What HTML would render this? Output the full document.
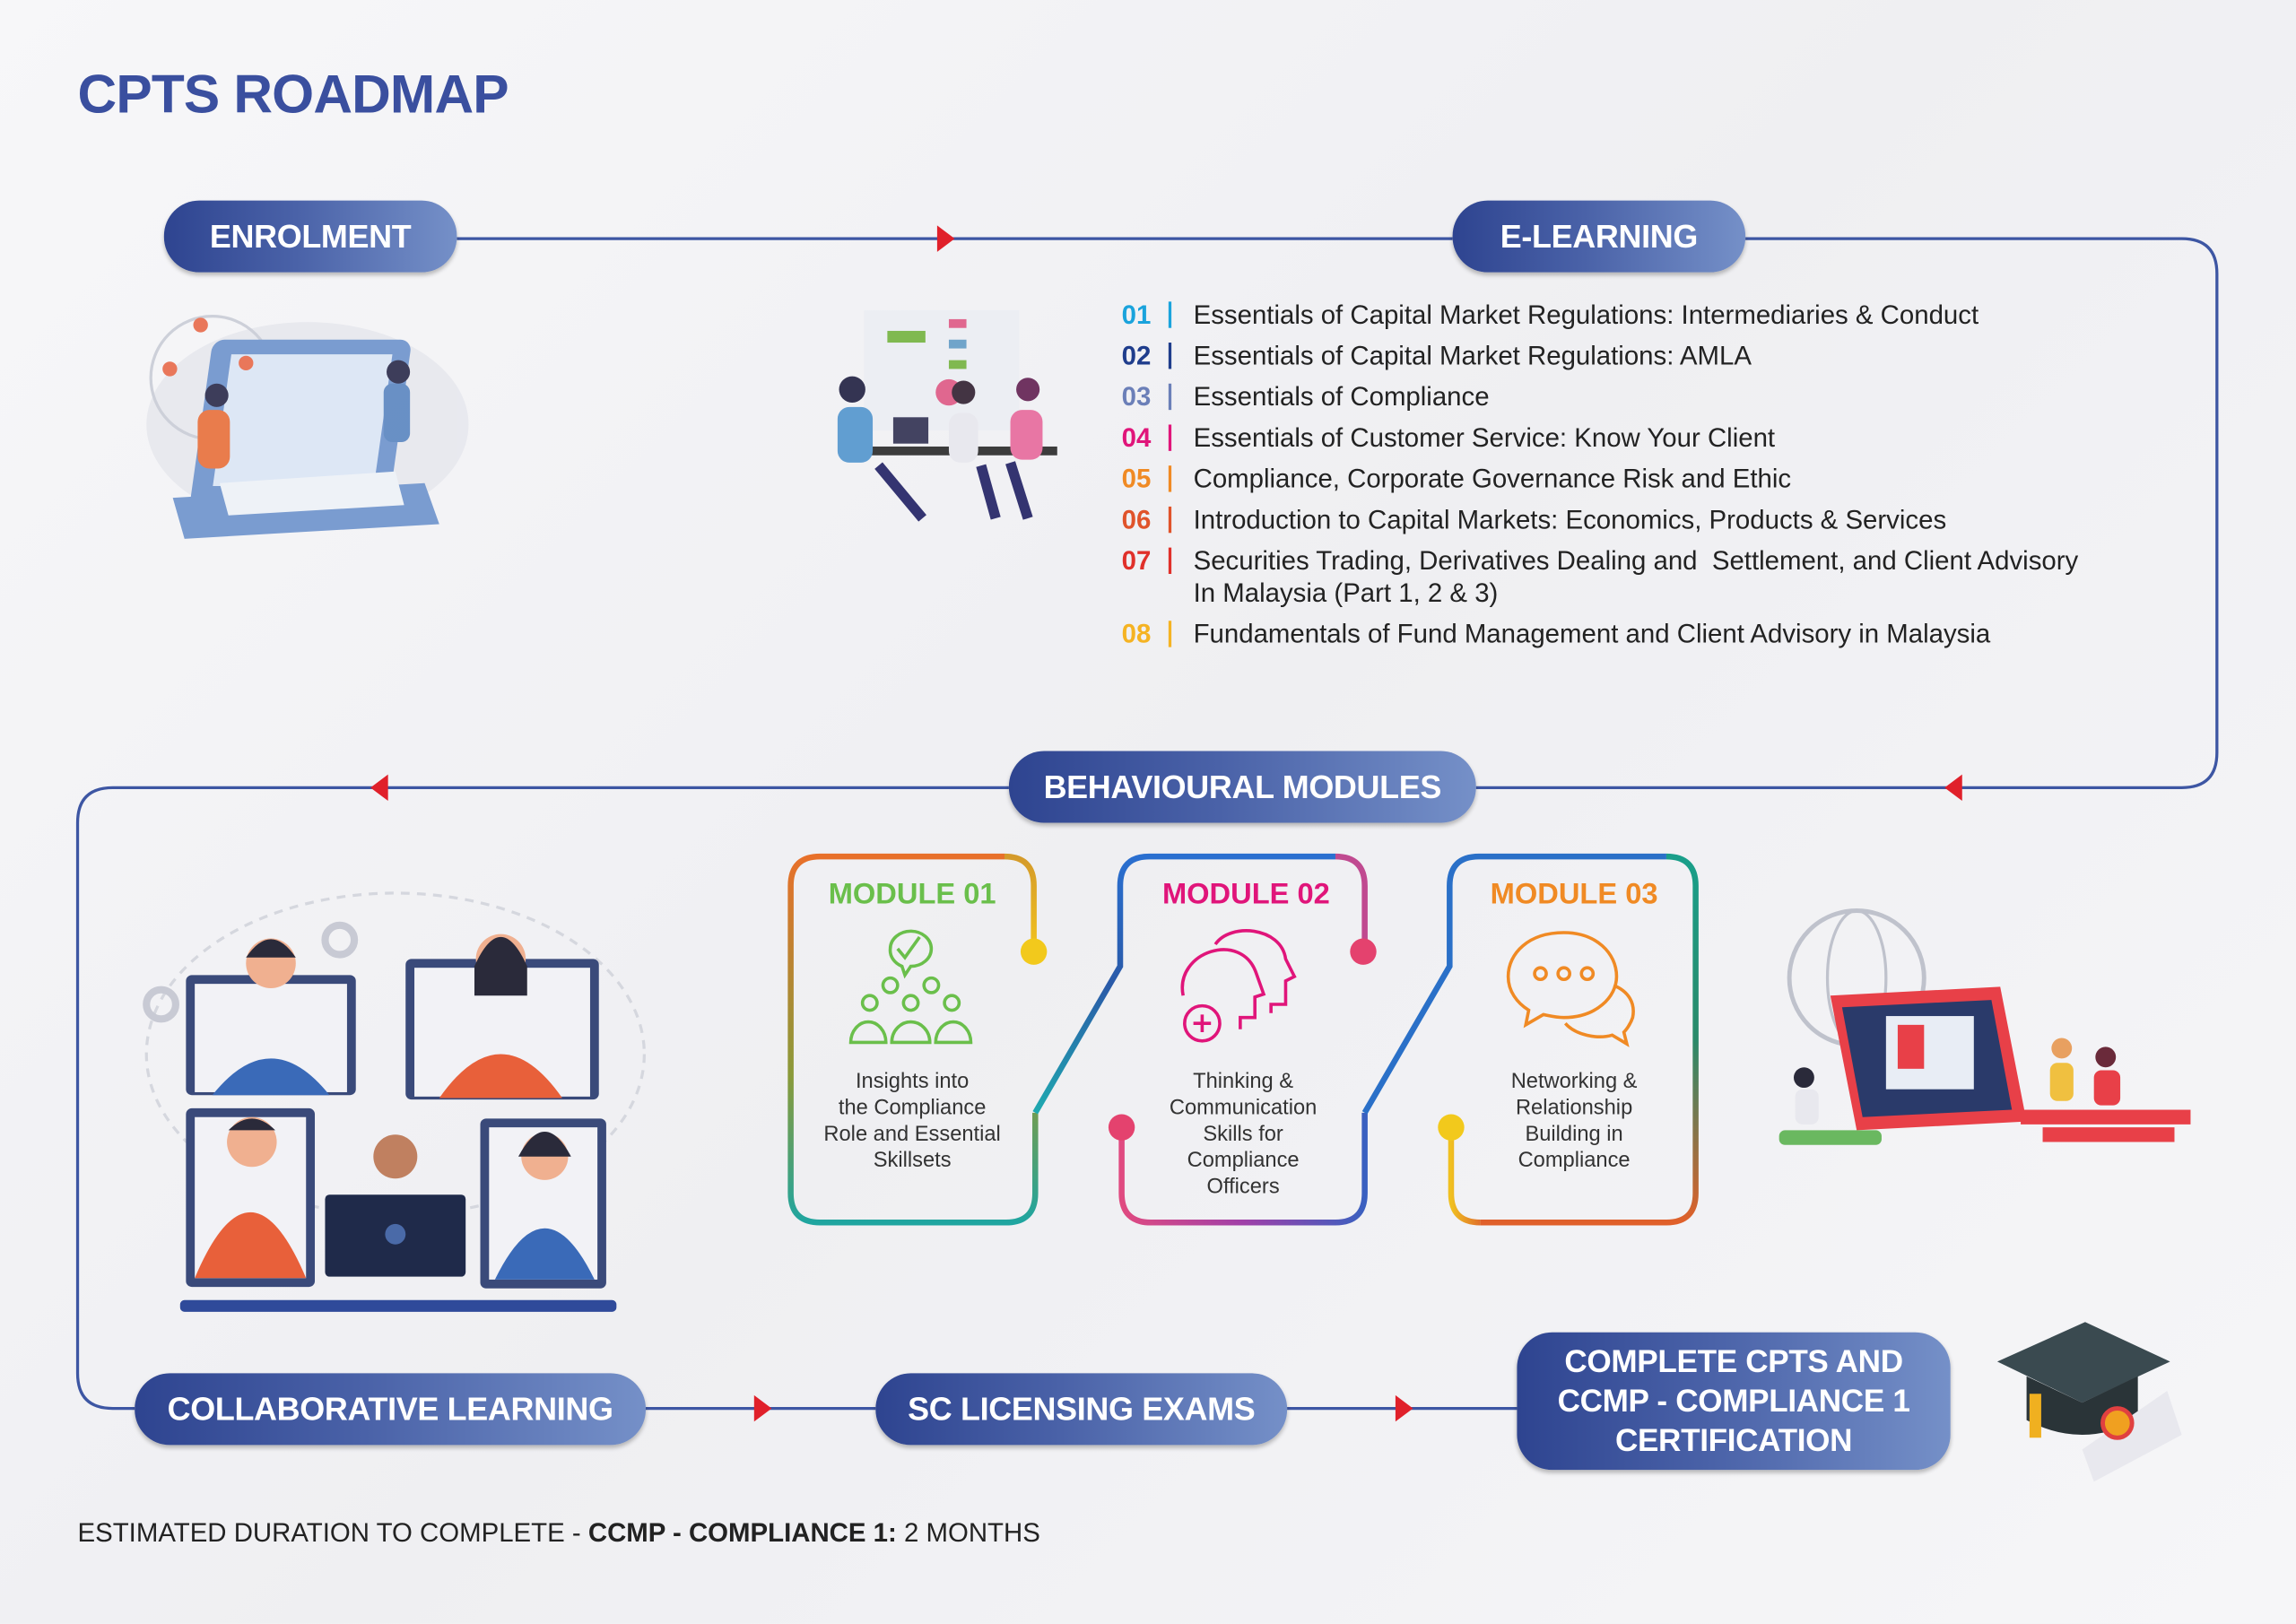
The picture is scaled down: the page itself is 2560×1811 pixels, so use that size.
<!DOCTYPE html>
<html><head><meta charset="utf-8"><style>
html,body{margin:0;padding:0;}
body{width:2560px;height:1811px;overflow:hidden;background:#f3f3f5;}
#w{position:absolute;left:0;top:0;width:1568px;height:1109px;transform:scale(1.63265);transform-origin:0 0;font-family:"Liberation Sans",sans-serif;
background:linear-gradient(135deg,#f7f7f9 0%,#efeff2 50%,#f6f6f8 100%);}
.t{position:absolute;white-space:nowrap;}
.pill{position:absolute;border-radius:24px;background:linear-gradient(90deg,#2e4490 0%,#4a62a8 45%,#7590c8 100%);color:#fff;font-weight:bold;font-size:22px;display:flex;align-items:center;justify-content:center;text-align:center;box-shadow:0 2px 3px rgba(0,0,0,.25);letter-spacing:-.2px}
.num{position:absolute;left:766px;font-size:18px;font-weight:bold;}
.bar{position:absolute;left:798px;width:2px;height:18px;}
.li{position:absolute;left:815px;font-size:18px;color:#222;white-space:nowrap;}
.mt{position:absolute;font-weight:bold;font-size:20px;text-align:center;width:170px;}
.md{position:absolute;font-size:14.5px;color:#333;text-align:center;width:170px;line-height:18px;}
</style></head><body><div id="w">
<div class="t" style="left:53px;top:44px;font-size:37px;font-weight:bold;color:#3a4f9f;letter-spacing:-.5px">CPTS ROADMAP</div>

<svg width="1568" height="1109" style="position:absolute;left:0;top:0">
<g fill="none" stroke="#3d56a3" stroke-width="2">
<path d="M312,163 H992"/>
<path d="M1192,163 H1490 Q1514,163 1514,187 V514 Q1514,538 1490,538 H1008"/>
<path d="M689,538 H77 Q53,538 53,562 V938 Q53,962 77,962 H92"/>
<path d="M441,962 H598"/>
<path d="M879,962 H1036"/>
</g>
<g fill="#e0202a">
<polygon points="640,154 652,163 640,172"/>
<polygon points="1340,529 1328,538 1340,547"/>
<polygon points="265,529 253,538 265,547"/>
<polygon points="515,953 527,962 515,971"/>
<polygon points="953,953 965,962 953,971"/>
</g>
<defs>
<linearGradient id="g1" x1="0" y1="0" x2="0" y2="1"><stop offset="0" stop-color="#e8702a"/><stop offset=".6" stop-color="#8a9a3a"/><stop offset="1" stop-color="#1fa5a0"/></linearGradient>
<linearGradient id="g1b" x1="0" y1="0" x2="0" y2="1"><stop offset="0" stop-color="#d49a2a"/><stop offset="1" stop-color="#f0c020"/></linearGradient>
<linearGradient id="g2" x1="0" y1="0" x2="0" y2="1"><stop offset="0" stop-color="#2a6fd0"/><stop offset=".5" stop-color="#2a5aa8"/><stop offset="1" stop-color="#1faab0"/></linearGradient>
<linearGradient id="g2b" x1="0" y1="0" x2="1" y2="0"><stop offset="0" stop-color="#e04a80"/><stop offset=".5" stop-color="#a040a8"/><stop offset="1" stop-color="#3a60c0"/></linearGradient>
<linearGradient id="g3" x1="0" y1="0" x2="0" y2="1"><stop offset="0" stop-color="#1a9f8a"/><stop offset=".5" stop-color="#2a8a6a"/><stop offset="1" stop-color="#e0602a"/></linearGradient>
<linearGradient id="g3b" x1="0" y1="0" x2="1" y2="0"><stop offset="0" stop-color="#f0c020"/><stop offset="1" stop-color="#e0702a"/></linearGradient>
</defs>
<g fill="none" stroke-width="4">
<path stroke="url(#g1)" d="M540,605 Q540,585 560,585 H686 M540,605 V815 Q540,835 560,835 H687 Q707,835 707,815 V760"/>
<path stroke="url(#g1b)" d="M686,585 Q706,585 706,605 V645"/>
<path stroke="url(#g2)" d="M707,760 L765,660 V605 Q765,585 785,585 H912"/>
<path stroke="#c04a90" d="M912,585 Q932,585 932,605 V645"/>
<path stroke="url(#g2b)" d="M766,775 V815 Q766,835 786,835 H912 Q932,835 932,815 V760"/>
<path stroke="#2a70c8" d="M932,760 L990,660 V605 Q990,585 1010,585 H1138"/>
<path stroke="url(#g3)" d="M1138,585 Q1158,585 1158,605 V815 Q1158,835 1138,835 H1011"/>
<path stroke="url(#g3b)" d="M1011,835 Q991,835 991,815 V775"/>
</g>
<circle cx="706" cy="650" r="9" fill="#f2c91c"/>
<circle cx="931" cy="650" r="9" fill="#e4426e"/>
<circle cx="766" cy="770" r="9" fill="#e4426e"/>
<circle cx="991" cy="770" r="9" fill="#f2c91c"/>
<!-- module icons -->
<g fill="none" stroke="#6abf4b" stroke-width="2.2">
<path d="M608,648 a14,12 0 1 1 14,12 l-4,6 l-2,-6 a14,12 0 0 1 -8,-12z"/>
<path d="M613,648 l5,6 l10,-14"/>
<circle cx="608" cy="673" r="5"/><circle cx="636" cy="673" r="5"/>
<circle cx="594" cy="685" r="5"/><circle cx="622" cy="685" r="5"/><circle cx="650" cy="685" r="5"/>
<path d="M581,712 a12,14 0 0 1 24,0z M609,712 a13,14 0 0 1 26,0z M639,712 a12,14 0 0 1 24,0z"/>
</g>
<g fill="none" stroke="#e0157a" stroke-width="2.2">
<path d="M830,645 c10,-15 45,-12 48,10 l6,12 l-6,3 v16 h-10 v6"/>
<path d="M808,680 c-6,-30 40,-45 50,-15 l5,14 l-6,2 v14 h-10 v8"/>
<circle cx="821" cy="699" r="12"/><path d="M815,699 h12 M821,693 v12"/>
</g>
<g fill="none" stroke="#f08a24" stroke-width="2.2">
<path d="M1068,637 c-24,0 -38,14 -38,30 c0,10 6,18 14,23 l-2,10 l12,-7 c5,1 9,2 14,2 c22,0 36,-14 36,-28 c0,-16 -14,-30 -36,-30z"/>
<circle cx="1052" cy="665" r="4"/><circle cx="1068" cy="665" r="4"/><circle cx="1084" cy="665" r="4"/>
<path d="M1102,673 c10,4 15,12 13,22 c-2,6 -6,10 -6,10 l2,8 l-10,-6 c-10,3 -25,0 -32,-8"/>
</g>
<!-- illustrations (simplified) -->
<g opacity=".9">
<ellipse cx="210" cy="290" rx="110" ry="70" fill="#e7e8ee"/>
<circle cx="145" cy="258" r="42" fill="none" stroke="#c9ccd6" stroke-width="2"/>
<rect x="178" y="232" width="136" height="120" rx="8" fill="#6d93cc" transform="skewX(-8)"/>
<rect x="192" y="242" width="110" height="90" fill="#dbe6f5" transform="skewX(-8)"/>
<polygon points="118,340 290,330 300,358 126,368" fill="#6d93cc"/>
<polygon points="150,330 270,322 276,345 156,352" fill="#eef2f8"/>
<circle cx="137" cy="222" r="5" fill="#e86a4a"/><circle cx="168" cy="248" r="5" fill="#e86a4a"/><circle cx="116" cy="252" r="5" fill="#e86a4a"/>
<rect x="135" y="280" width="22" height="40" rx="8" fill="#e8703a"/><circle cx="148" cy="270" r="8" fill="#2a2a4a"/>
<rect x="262" y="262" width="18" height="40" rx="6" fill="#5a86c0"/><circle cx="272" cy="254" r="8" fill="#2a2a4a"/>
</g>
<g opacity=".95">
<rect x="590" y="212" width="106" height="82" fill="#eceef3"/>
<rect x="606" y="226" width="26" height="8" fill="#7ab648"/>
<rect x="648" y="218" width="12" height="6" fill="#e0608a"/><rect x="648" y="232" width="12" height="6" fill="#6aa0c8"/><rect x="648" y="246" width="12" height="6" fill="#7ab648"/>
<circle cx="648" cy="268" r="9" fill="#e0608a"/>
<rect x="592" y="305" width="130" height="6" fill="#333"/>
<rect x="572" y="278" width="24" height="38" rx="8" fill="#5a9ad0"/><circle cx="582" cy="266" r="9" fill="#2a2a4a"/>
<rect x="648" y="282" width="20" height="34" rx="8" fill="#e8e8ee"/><circle cx="658" cy="268" r="8" fill="#3a2a3a"/>
<rect x="690" y="280" width="22" height="34" rx="8" fill="#e870a0"/><circle cx="702" cy="266" r="8" fill="#6a2a5a"/>
<path d="M600,318 l30,36 M670,318 l10,36 M690,316 l12,38" stroke="#2a2a6a" stroke-width="7"/>
<rect x="610" y="285" width="24" height="18" fill="#3a3a5a"/>
</g>
<g>
<ellipse cx="270" cy="720" rx="170" ry="110" fill="none" stroke="#d5d7de" stroke-width="2" stroke-dasharray="6 5"/>
<rect x="127" y="666" width="116" height="82" rx="4" fill="#3a4a7a"/><rect x="133" y="672" width="104" height="74" fill="#f2f2f6"/>
<rect x="277" y="655" width="132" height="96" rx="4" fill="#3a4a7a"/><rect x="283" y="661" width="120" height="88" fill="#f2f2f6"/>
<rect x="127" y="757" width="88" height="122" rx="4" fill="#3a4a7a"/><rect x="133" y="763" width="76" height="110" fill="#f2f2f6"/>
<rect x="328" y="764" width="86" height="116" rx="4" fill="#3a4a7a"/><rect x="334" y="770" width="74" height="104" fill="#f2f2f6"/>
<rect x="222" y="816" width="96" height="56" rx="3" fill="#1f2a4a"/>
<rect x="123" y="888" width="298" height="8" rx="3" fill="#2f4a9a"/>
<path d="M145,748 q40,-50 80,0z" fill="#3a6ab8"/><circle cx="185" cy="658" r="17" fill="#f0b090"/><path d="M168,654 q17,-25 34,0z" fill="#2a2a3a"/>
<path d="M300,750 q42,-60 84,0z" fill="#e8603a"/><circle cx="342" cy="655" r="17" fill="#f0b090"/><path d="M324,660 q18,-40 36,0 v20 h-36z" fill="#2a2a3a"/>
<path d="M133,873 q38,-90 76,0z" fill="#e8603a"/><circle cx="172" cy="780" r="17" fill="#f0b090"/><path d="M156,772 q16,-16 32,0z" fill="#2a2a3a"/>
<path d="M338,874 q34,-70 68,0z" fill="#3a6ab8"/><circle cx="372" cy="790" r="16" fill="#f0b090"/><path d="M354,790 q18,-34 36,0z" fill="#2a2a3a"/>
<circle cx="270" cy="790" r="15" fill="#c08060"/><circle cx="270" cy="843" r="7" fill="#4a6aa8"/>
<circle cx="110" cy="686" r="10" fill="none" stroke="#c8cad4" stroke-width="5"/><circle cx="232" cy="642" r="10" fill="none" stroke="#c8cad4" stroke-width="5"/>
</g>
<g>
<circle cx="1268" cy="668" r="46" fill="none" stroke="#bfc2cc" stroke-width="3"/>
<ellipse cx="1268" cy="668" rx="20" ry="46" fill="none" stroke="#bfc2cc" stroke-width="2"/>
<polygon points="1250,680 1366,674 1384,766 1268,772" fill="#e84048"/>
<polygon points="1258,688 1360,683 1374,758 1272,763" fill="#2a3a6a"/>
<rect x="1288" y="694" width="60" height="50" fill="#e8edf5"/>
<rect x="1296" y="700" width="18" height="30" fill="#e84048"/>
<rect x="1215" y="772" width="70" height="10" rx="4" fill="#6ab860"/>
<rect x="1380" y="758" width="116" height="10" fill="#e84048"/><rect x="1395" y="770" width="90" height="10" fill="#e84048"/>
<circle cx="1232" cy="736" r="7" fill="#2a2a3a"/><rect x="1226" y="744" width="16" height="24" rx="5" fill="#e8e8ee"/>
<circle cx="1408" cy="716" r="7" fill="#e8a060"/><rect x="1400" y="726" width="16" height="26" rx="5" fill="#f0c040"/>
<circle cx="1438" cy="722" r="7" fill="#6a2a3a"/><rect x="1430" y="731" width="18" height="24" rx="5" fill="#e84048"/>
</g>
<g>
<polygon points="1364,930 1424,903 1482,930 1422,958" fill="#3a4a50"/>
<path d="M1384,940 v30 q38,20 76,0 v-30 l-38,18z" fill="#2a3438"/>
<rect x="1386" y="952" width="8" height="30" fill="#f0b020"/>
<polygon points="1422,990 1480,950 1490,980 1430,1012" fill="#e8e8ee"/>
<circle cx="1446" cy="972" r="10" fill="#f0a020" stroke="#e04040" stroke-width="3"/>
</g>
</svg>

<div class="pill" style="left:112px;top:137px;width:200px;height:49px">ENROLMENT</div>
<div class="pill" style="left:992px;top:137px;width:200px;height:49px">E-LEARNING</div>
<div class="pill" style="left:689px;top:513px;width:319px;height:49px">BEHAVIOURAL MODULES</div>
<div class="pill" style="left:92px;top:938px;width:349px;height:49px">COLLABORATIVE LEARNING</div>
<div class="pill" style="left:598px;top:938px;width:281px;height:49px">SC LICENSING EXAMS</div>
<div class="pill" style="left:1036px;top:910px;width:296px;height:94px;line-height:27px;font-size:21.5px">COMPLETE CPTS AND<br>CCMP - COMPLIANCE 1<br>CERTIFICATION</div>

<div class="num" style="top:205px;color:#1aa3dc">01</div><div class="bar" style="top:206px;background:#1aa3dc"></div><div class="li" style="top:205px">Essentials of Capital Market Regulations: Intermediaries &amp; Conduct</div>
<div class="num" style="top:233px;color:#1f3d8c">02</div><div class="bar" style="top:234px;background:#1f3d8c"></div><div class="li" style="top:233px">Essentials of Capital Market Regulations: AMLA</div>
<div class="num" style="top:261px;color:#6b7fb8">03</div><div class="bar" style="top:262px;background:#6b7fb8"></div><div class="li" style="top:261px">Essentials of Compliance</div>
<div class="num" style="top:289px;color:#e0157a">04</div><div class="bar" style="top:290px;background:#e0157a"></div><div class="li" style="top:289px">Essentials of Customer Service: Know Your Client</div>
<div class="num" style="top:317px;color:#f08a24">05</div><div class="bar" style="top:318px;background:#f08a24"></div><div class="li" style="top:317px">Compliance, Corporate Governance Risk and Ethic</div>
<div class="num" style="top:345px;color:#e0532a">06</div><div class="bar" style="top:346px;background:#e0532a"></div><div class="li" style="top:345px">Introduction to Capital Markets: Economics, Products &amp; Services</div>
<div class="num" style="top:373px;color:#e0302a">07</div><div class="bar" style="top:374px;background:#e0302a"></div><div class="li" style="top:373px">Securities Trading, Derivatives Dealing and &nbsp;Settlement, and Client Advisory</div>
<div class="li" style="top:395px">In Malaysia (Part 1, 2 &amp; 3)</div>
<div class="num" style="top:423px;color:#f5b323">08</div><div class="bar" style="top:424px;background:#f5b323"></div><div class="li" style="top:423px">Fundamentals of Fund Management and Client Advisory in Malaysia</div>

<div class="mt" style="left:538px;top:600px;color:#6abf4b">MODULE 01</div>
<div class="mt" style="left:766px;top:600px;color:#e0157a">MODULE 02</div>
<div class="mt" style="left:990px;top:600px;color:#f08a24">MODULE 03</div>
<div class="md" style="left:538px;top:730px">Insights into<br>the Compliance<br>Role and Essential<br>Skillsets</div>
<div class="md" style="left:764px;top:730px">Thinking &amp;<br>Communication<br>Skills for<br>Compliance<br>Officers</div>
<div class="md" style="left:990px;top:730px">Networking &amp;<br>Relationship<br>Building in<br>Compliance</div>

<div class="t" style="left:53px;top:1037px;font-size:18px;color:#222">ESTIMATED DURATION TO COMPLETE - <b>CCMP - COMPLIANCE 1:</b> 2 MONTHS</div>
</div></body></html>
